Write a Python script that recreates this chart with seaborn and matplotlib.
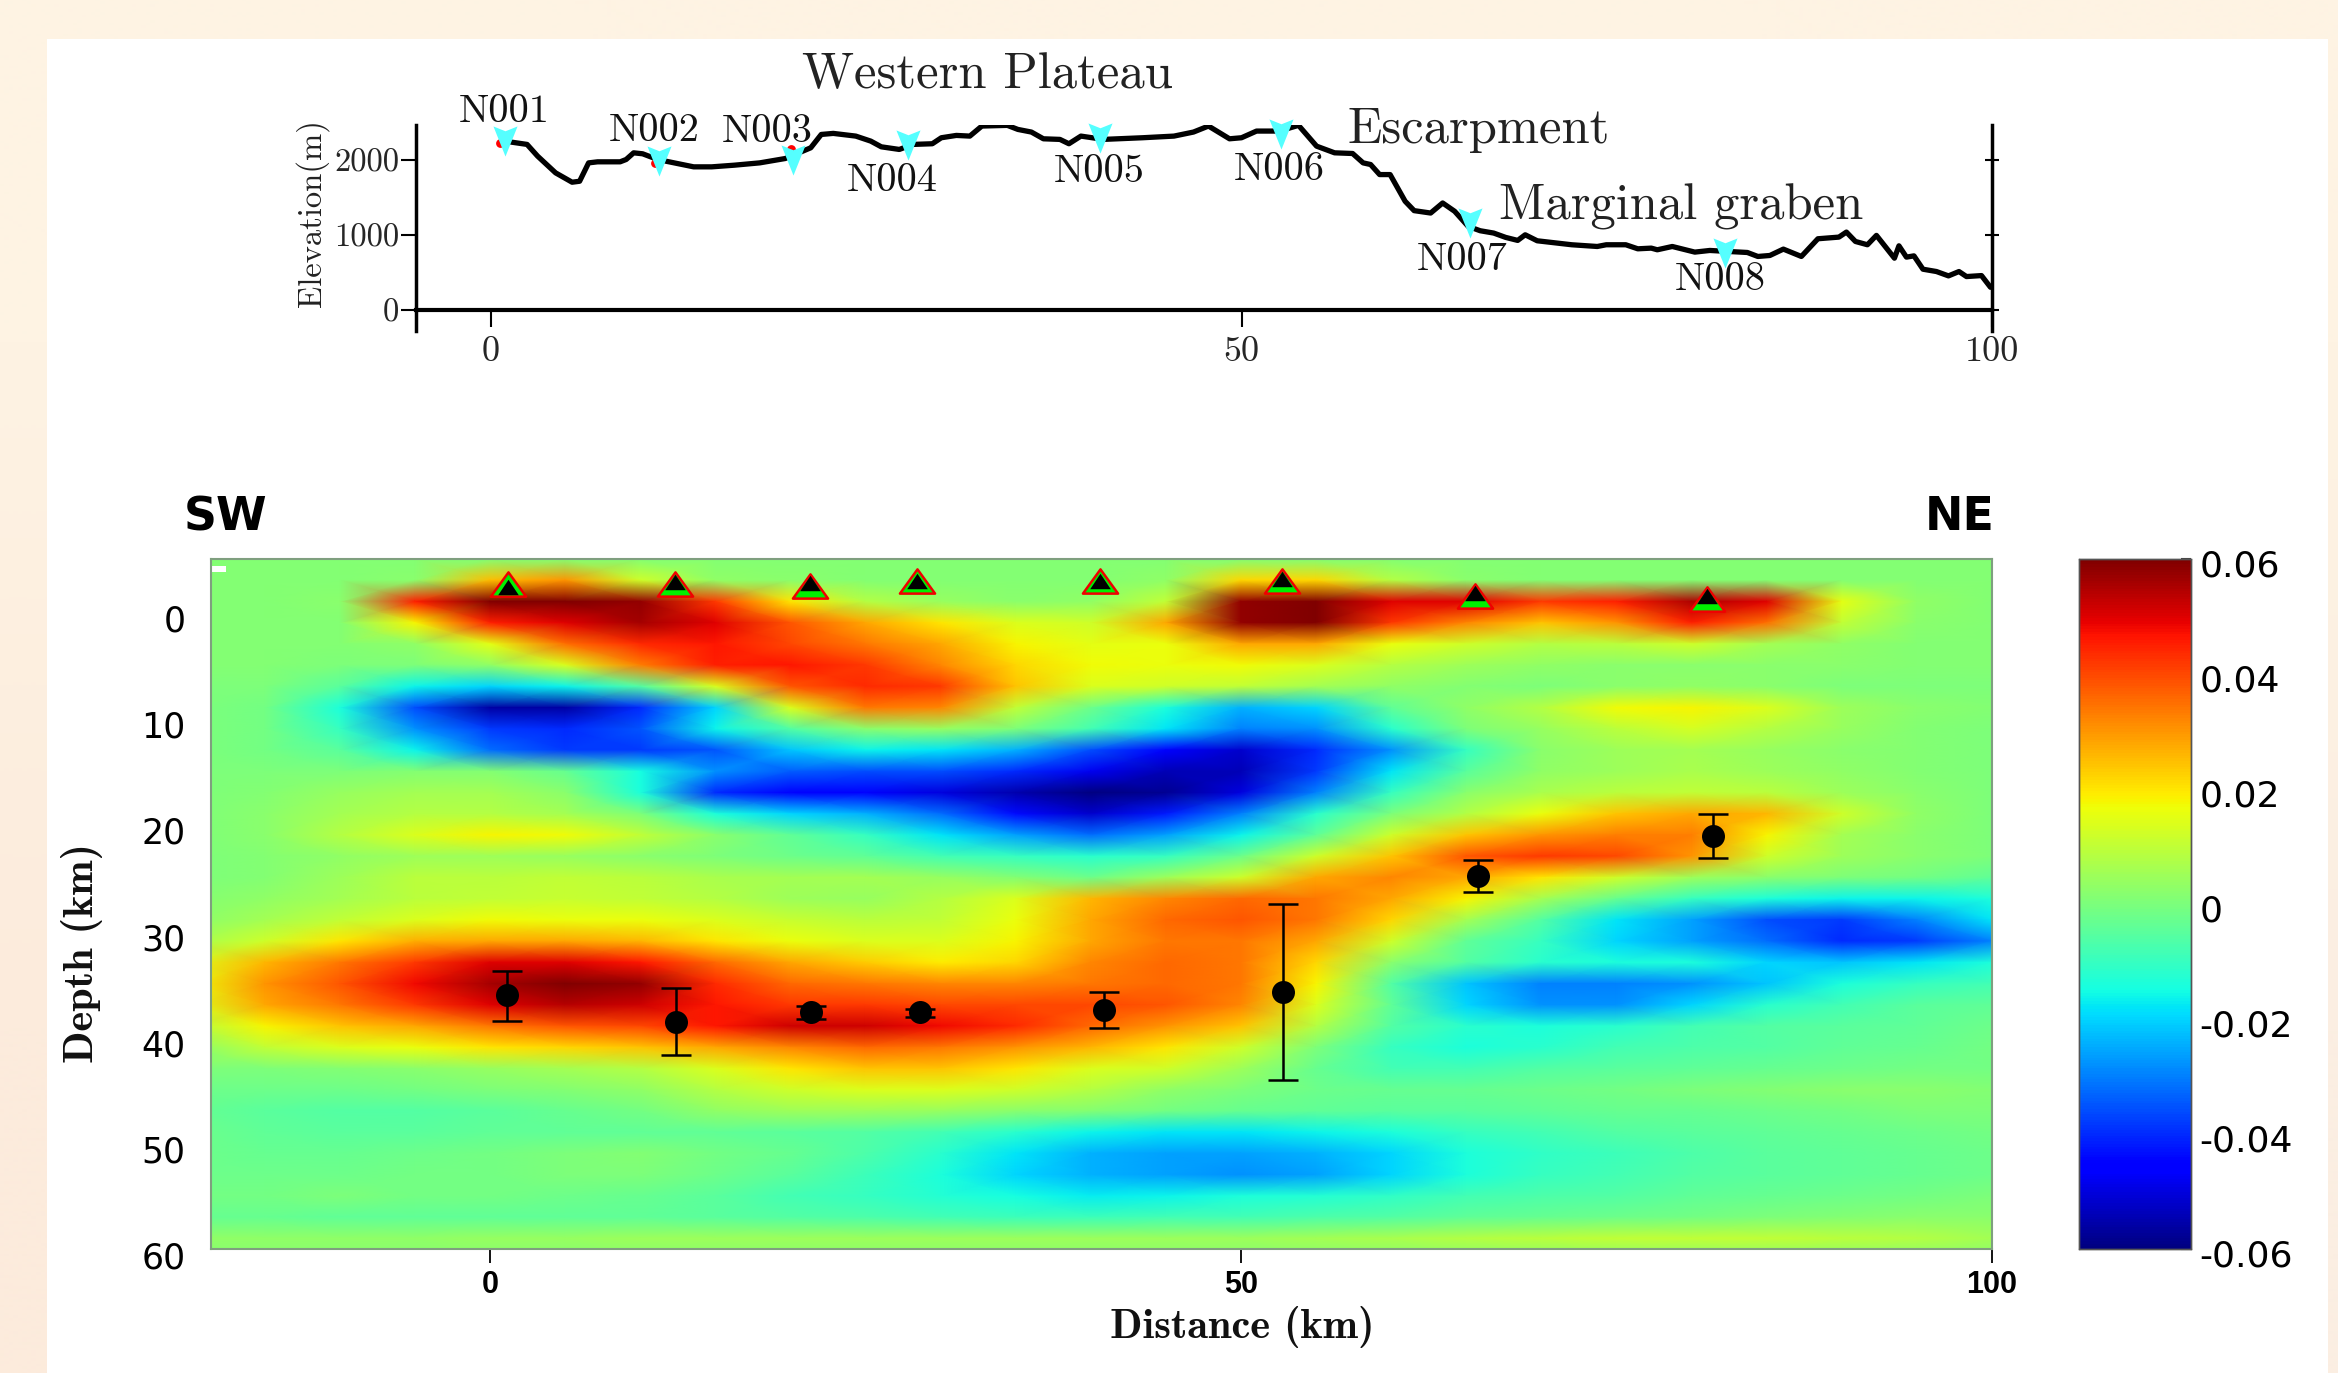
import numpy as np
import pandas as pd
import matplotlib
matplotlib.use('Agg')
import matplotlib.pyplot as plt
import seaborn as sns
from matplotlib.colors import to_rgb
from matplotlib.path import Path
from matplotlib.patches import Rectangle
from matplotlib.ticker import FuncFormatter
from matplotlib.transforms import ScaledTranslation

W, H = 2338, 1373

# ── elevation profile ─────────────────────────────
profile_km = [0.9, 2.4, 3.1, 4.3, 5.4, 5.9, 6.5, 7.1, 8.6, 9.0, 9.5, 10.1, 11.1, 12.2, 13.5, 14.7,
              16.2, 17.9, 19.6, 21.3, 22.0, 22.8, 24.3, 25.3, 26.0, 27.2, 28.1, 29.4, 30.0, 31.0,
              31.9, 32.7, 34.4, 35.1, 36.0, 36.8, 37.9, 38.5, 39.3, 40.8, 43.4, 45.5, 46.8, 47.8,
              49.2, 50.0, 51.0, 52.5, 53.8, 55.0, 56.2, 57.4, 58.1, 58.6, 59.2, 59.9, 60.9, 61.5,
              62.6, 63.4, 64.2, 65.1, 65.9, 66.8, 67.6, 68.4, 68.9, 69.7, 72.0, 73.7, 74.3, 75.6,
              76.4, 77.3, 77.7, 78.7, 80.2, 81.2, 83.7, 84.4, 85.2, 86.1, 87.3, 88.4, 89.8, 90.3,
              90.9, 91.7, 92.3, 93.5, 93.8, 94.3, 94.8, 95.4, 96.3, 97.1, 97.8, 98.3, 99.3, 99.9]
profile_elev = [2252, 2208, 2052, 1829, 1704, 1717, 1962, 1976, 1976, 2007, 2096, 2083, 2007, 1962, 1909, 1909,
                1931, 1962, 2020, 2163, 2341, 2355, 2319, 2252, 2176, 2141, 2208, 2217, 2297, 2328,
                2319, 2453, 2462, 2408, 2373, 2283, 2275, 2217, 2319, 2275, 2297, 2319, 2373, 2453,
                2283, 2297, 2386, 2386, 2462, 2185, 2096, 2087, 1962, 1940, 1806, 1806, 1450, 1325,
                1293, 1427, 1316, 1115, 1057, 1026, 968, 928, 1003, 923, 870, 847, 870, 870,
                816, 825, 803, 847, 772, 794, 767, 714, 727, 812, 714, 950, 972, 1039,
                914, 870, 995, 691, 856, 705, 722, 544, 513, 455, 513, 446, 459, 303]

station_names = ['N001', 'N002', 'N003', 'N004', 'N005', 'N006', 'N007', 'N008']
station_km = [0.9, 11.2, 20.1, 27.8, 40.6, 52.6, 65.2, 82.2]
station_elev = [2252, 1985, 1998, 2199, 2292, 2350, 1160, 758]
name_km = [0.9, 10.9, 18.4, 26.7, 40.5, 52.5, 64.7, 81.9]
name_elev = [2643, 2390, 2377, 1723, 1843, 1870, 670, 403]
red_km = [0.6, 10.9, 20.0]
red_elev = [2230, 1960, 2150]

region_names = ['Western Plateau', 'Escarpment', 'Marginal graben']
region_km = [33.1, 65.8, 79.3]
region_elev = [3133, 2400, 1380]

# ── markers on the depth section ──────────────────
tri_km = [1.2, 12.3, 21.3, 28.4, 40.6, 52.7, 65.6, 81.0]
tri_depth = [-2.6, -2.6, -2.5, -2.9, -2.9, -2.9, -1.5, -1.2]
tri_black_depth = [-2.4, -2.8, -2.7, -2.9, -2.9, -3.1, -1.8, -1.5]

moho_km = [1.13, 12.4, 21.4, 28.6, 40.9, 52.8, 65.8, 81.4]
moho_depth = [36.1, 38.6, 37.7, 37.7, 37.5, 35.8, 24.9, 21.1]
moho_top = [33.8, 35.4, 37.1, 37.4, 35.8, 27.5, 23.4, 19.0]
moho_bottom = [38.5, 41.7, 38.3, 38.1, 39.2, 44.1, 26.4, 23.2]

# ── anomaly section, thousandths ───────────────────────────
grid_km = [-20, -15, -10, -5, 0, 5, 10, 15, 20, 25, 30, 35, 40, 45, 50, 55, 60, 65, 70, 75, 80, 85, 90, 95, 100]
grid_depth = list(range(-5, 62, 2))
anomaly_rows = [
    [1, 1, 1, 1, 1, 1, 1, 1, 1, 1, 1, 1, 1, 1, 1, 1, 1, 1, 1, 1, 1, 1, 1, 1, 1],
    [1, 1, 1, 2, 25, 30, 12, 3, 2, 1, 1, 1, 1, 3, 22, 22, 8, 2, 1, 1, 1, 1, 1, 1, 1],
    [1, 1, 2, 45, 60, 60, 58, 42, 20, 8, 4, 2, 3, 10, 58, 60, 50, 50, 42, 45, 55, 50, 15, 3, 1],
    [1, 1, 1, 18, 45, 50, 56, 50, 38, 28, 20, 14, 12, 28, 58, 60, 42, 32, 24, 30, 45, 35, 10, 2, 1],
    [1, 1, 1, 3, 15, 35, 44, 46, 40, 34, 28, 18, 15, 16, 28, 28, 16, 12, 8, 9, 12, 6, 3, 1, 1],
    [1, 1, 0, 0, 3, 14, 33, 45, 46, 42, 32, 22, 17, 16, 17, 14, 8, 5, 3, 2, 2, 2, 2, 1, 1],
    [0, 0, -5, -16, -20, -16, -6, 14, 38, 44, 42, 24, 14, 12, 10, 6, 3, 1, 0, 2, 3, 2, 0, 0, 0],
    [0, -1, -14, -36, -56, -56, -40, -20, 14, 34, 32, 10, -2, -14, -24, -20, -4, 3, 8, 17, 18, 14, 5, 2, 1],
    [0, -1, -10, -28, -38, -40, -35, -16, -6, 2, 4, 0, -8, -18, -30, -28, -12, 0, 4, 9, 13, 8, 4, 1, 0],
    [0, -1, -5, -16, -32, -38, -38, -35, -22, -16, -18, -24, -36, -46, -52, -40, -28, -10, 2, 5, 6, 4, 2, 1, 0],
    [0, 0, 0, 1, 1, -3, -15, -28, -34, -36, -36, -40, -48, -54, -54, -38, -18, -5, 3, 5, 7, 5, 3, 1, 0],
    [0, 1, 4, 6, 6, 2, -14, -40, -46, -46, -50, -55, -60, -58, -50, -30, -10, 2, 7, 9, 10, 9, 5, 2, 0],
    [0, 2, 6, 8, 8, 6, 0, -14, -20, -24, -32, -44, -52, -42, -30, -12, 0, 8, 16, 24, 28, 26, 12, 3, 0],
    [0, 2, 8, 14, 18, 17, 10, 2, -4, -10, -18, -26, -32, -26, -16, -4, 12, 24, 30, 33, 33, 18, 6, 2, 0],
    [0, 1, 3, 5, 5, 4, 2, 0, -2, -4, -8, -10, -12, -10, -2, 12, 24, 38, 42, 40, 30, 12, 5, 2, 0],
    [0, 1, 5, 9, 9, 10, 9, 7, 6, 6, 4, 1, -2, 5, 12, 28, 32, 28, 20, 12, 5, 2, 0, -1, -4],
    [1, 3, 6, 9, 10, 11, 10, 8, 5, 4, 8, 14, 26, 32, 36, 34, 28, 18, 6, -3, -10, -14, -16, -16, -14],
    [2, 6, 10, 14, 17, 16, 16, 14, 11, 9, 10, 16, 28, 36, 38, 34, 22, 6, -6, -18, -26, -36, -38, -30, -18],
    [6, 12, 20, 27, 28, 28, 26, 20, 16, 14, 14, 18, 28, 34, 34, 28, 12, -4, -10, -20, -26, -32, -40, -38, -30],
    [14, 26, 34, 42, 50, 50, 46, 36, 28, 23, 19, 22, 32, 36, 34, 22, 2, -6, -12, -14, -14, -20, -22, -18, -14],
    [16, 30, 38, 48, 56, 60, 58, 44, 36, 34, 32, 32, 34, 36, 34, 18, -6, -22, -30, -30, -28, -22, -14, -10, -8],
    [14, 28, 34, 42, 50, 54, 52, 46, 42, 42, 40, 40, 40, 38, 32, 14, -4, -20, -28, -28, -20, -12, -8, -5, -4],
    [8, 18, 24, 28, 34, 38, 40, 46, 52, 52, 48, 44, 36, 30, 24, 8, -6, -12, -14, -12, -8, -6, -5, -4, -2],
    [2, 10, 14, 16, 20, 22, 24, 28, 32, 36, 34, 30, 26, 20, 12, 0, -10, -14, -12, -8, -7, -6, -4, -3, -1],
    [0, 0, 1, 2, 4, 6, 8, 14, 20, 24, 24, 20, 14, 12, 5, -3, -8, -8, -6, -5, -4, -3, -2, -1, -1],
    [-2, -2, -2, -1, 0, 1, 3, 8, 12, 14, 14, 12, 8, 3, 0, -2, -3, -3, -2, -1, 0, 1, 2, 2, 1],
    [-3, -5, -6, -6, -5, -3, -1, 3, 5, 5, 4, 2, 1, -1, -3, -4, -5, -5, -4, -3, -3, -2, -1, 0, 0],
    [-2, -4, -5, -5, -4, -4, -4, -4, -5, -6, -8, -12, -16, -18, -18, -16, -14, -10, -8, -6, -5, -4, -3, -2, -1],
    [-2, -3, -3, -2, -1, 0, 1, -1, -3, -7, -12, -18, -24, -26, -26, -24, -20, -14, -11, -9, -7, -5, -4, -3, -2],
    [-2, -2, -2, -1, -1, 0, 0, -2, -5, -9, -14, -20, -24, -26, -28, -26, -20, -14, -10, -8, -6, -5, -4, -3, -2],
    [-1, -1, 0, -1, -1, -2, -3, -5, -8, -10, -13, -15, -17, -16, -14, -13, -11, -8, -7, -6, -4, -3, -2, -1, 0],
    [-3, -3, -4, -4, -4, -4, -4, -5, -6, -7, -8, -9, -9, -8, -8, -7, -6, -4, -3, -2, -1, 0, 1, 2, 2],
    [3, 3, 3, 3, 4, 4, 5, 5, 5, 5, 5, 5, 5, 5, 5, 6, 7, 8, 9, 10, 10, 10, 9, 8, 6],
    [1, 1, 1, 1, 1, 1, 1, 1, 1, 1, 1, 1, 1, 1, 1, 1, 1, 1, 1, 1, 1, 1, 1, 1, 1],
]

depth_ticks = [0, 10, 20, 30, 40, 50, 60]
dist_ticks = [0, 50, 100]
elev_ticks = [0, 1000, 2000]
cbar_ticks = [-0.06, -0.04, -0.02, 0, 0.02, 0.04, 0.06]

CYAN = '#55FFFF'


def px_axes(fig, left, top, right, bottom, **kw):
    return fig.add_axes([left / W, 1 - bottom / H, (right - left) / W, (bottom - top) / H], **kw)


sns.set_theme(style='white')
fig = plt.figure(figsize=(W / 100, H / 100), dpi=100, facecolor='#FEF2E2')

# cream page with a faint shift towards the lower corners, white sheet on top
ax_bg = fig.add_axes([0, 0, 1, 1], zorder=-2)
ax_bg.imshow([[to_rgb('#FEF3E3'), to_rgb('#FEF3E3')], [to_rgb('#FCEBDC'), to_rgb('#FBEEE2')]],
             interpolation='bilinear', aspect='auto', extent=(0, 1, 0, 1))
ax_bg.add_patch(Rectangle((47 / W, 0), (2328 - 47) / W, 1 - 39 / H, fc='white', ec='none'))
ax_bg.set_axis_off()

# ── top panel: elevation ──────────────────────────
ax_top = px_axes(fig, 416, 125, 1992, 331, facecolor='none')
sns.lineplot(x=profile_km, y=profile_elev, estimator=None, sort=False, color='black', lw=3.8, ax=ax_top)
sns.scatterplot(x=red_km, y=red_elev, color='red', s=40, linewidth=0, ax=ax_top, zorder=3)
chevron = Path([(-0.8, 1), (0, 0.68), (0.8, 1), (0, -1), (-0.8, 1)], closed=True)
sns.scatterplot(x=station_km, y=station_elev, marker=chevron, s=470, color=CYAN, linewidth=0,
                ax=ax_top, zorder=4, clip_on=False)
ax_top.set_xlim(-5, 100)
ax_top.set_ylim(-280, 2467)
ax_top.spines['top'].set_visible(False)
ax_top.spines['bottom'].set_position(('data', 0))
ax_top.spines['bottom'].set_linewidth(3)
for side in ['left', 'right']:
    ax_top.spines[side].set_linewidth(2.5)
for side in ['left', 'right', 'bottom']:
    ax_top.spines[side].set_color('black')
ax_top.set_xticks(dist_ticks)
ax_top.set_yticks(elev_ticks)
ax_top.tick_params(axis='x', bottom=True, direction='out', length=12, width=1.5, pad=7, color='black',
                   labelsize=26, labelfontfamily='cmr10')
ax_top.tick_params(axis='y', left=True, direction='out', length=11, width=1.5, pad=1,
                   color='black', labelsize=23.5, labelfontfamily='cmr10')
ax_top.set_xlabel('')
ax_top.set_ylabel('')
ax_right = ax_top.twinx()
ax_right.set_ylim(ax_top.get_ylim())
ax_right.set_yticks(elev_ticks)
ax_right.tick_params(axis='y', right=True, labelright=False, direction='inout', length=10, width=1.5,
                     color='black')
ax_right.grid(False)
for spine in ax_right.spines.values():
    spine.set_visible(False)
for name, x, y in zip(station_names, name_km, name_elev):
    ax_top.text(x, y, name, fontsize=29, family='cmr10', ha='center', va='center', color='#111111')
for name, x, y in zip(region_names, region_km, region_elev):
    ax_top.text(x, y, name, fontsize=36.5, family='cmr10', ha='center', va='center', color='#222222')
fig.text(312 / W, 1 - 213 / H, 'Elevation(m)', rotation=90, fontsize=23.5, family='cmr10',
         ha='center', va='center', color='#222222')

# ── bottom panel: anomaly section ─────────────────
anomaly = pd.DataFrame(np.array(anomaly_rows) / 1000, index=grid_depth, columns=grid_km)

ax_map = px_axes(fig, 210.6, 559, 1992, 1249)
ax_cbar = px_axes(fig, 2079, 559, 2191, 1249)
sns.heatmap(anomaly, cmap='jet', vmin=-0.06, vmax=0.06, shading='gouraud', ax=ax_map, cbar_ax=ax_cbar,
            xticklabels=False, yticklabels=False,
            cbar_kws={'ticks': cbar_ticks,
                      'format': FuncFormatter(lambda v, _: '0' if abs(v) < 1e-9 else f'{v:g}')})
ax_map.set_xlim((-18.6 - grid_km[0]) / 5, len(grid_km) - 1)
ax_map.set_ylim((60 - grid_depth[0]) / 2, 0)
ax_map.set_xlabel('')
ax_map.set_ylabel('')

ax_cbar.tick_params(axis='y', right=True, direction='in', length=7, width=1.5, color='#444444', pad=6,
                    labelsize=26, labelfontfamily='DejaVu Sans', labelcolor='black')
for spine in ax_cbar.spines.values():
    spine.set_visible(True)
    spine.set_linewidth(1)
    spine.set_color('#555555')
for label in ax_cbar.get_yticklabels():
    label.set_transform(label.get_transform() + ScaledTranslation(0, -4 / 100, fig.dpi_scale_trans))

# second layer with real km and depth limits, holds ticks and marks
ax_sec = px_axes(fig, 210.6, 559, 1992, 1249, facecolor='none')
ax_sec.set_xlim(-18.6, 100)
ax_sec.set_ylim(60, -5)
ax_sec.add_patch(Rectangle((-18.6, -4.3), 1.0, 0.5, fc='white', ec='none'))

ax_sec.errorbar(moho_km, moho_depth,
                yerr=[np.array(moho_depth) - np.array(moho_top), np.array(moho_bottom) - np.array(moho_depth)],
                fmt='none', ecolor='black', elinewidth=1.8, capsize=10.5, capthick=1.8, zorder=3)
sns.scatterplot(x=moho_km, y=moho_depth, s=274, color='black', linewidth=0, ax=ax_sec, zorder=4)

outer_tri = Path([(-1, -0.69), (1, -0.69), (0, 0.69), (-1, -0.69)], closed=True)
inner_tri = Path([(-1, -0.75), (1, -0.75), (0, 0.75), (-1, -0.75)], closed=True)
sns.scatterplot(x=tri_km, y=tri_depth, marker=outer_tri, s=640, color='#00F000', edgecolor='#F00000',
                linewidth=1.8, ax=ax_sec, zorder=5)
sns.scatterplot(x=tri_km, y=tri_black_depth, marker=inner_tri, s=220, color='black', linewidth=0,
                ax=ax_sec, zorder=6)

ax_sec.set_xlim(-18.6, 100)
ax_sec.set_ylim(60, -5)
ax_sec.set_xticks(dist_ticks)
ax_sec.set_yticks(depth_ticks)
ax_sec.set_xlabel('')
ax_sec.set_ylabel('')
ax_sec.tick_params(axis='x', bottom=True, direction='out', length=10, width=1.3, color='black', pad=5)
ax_sec.tick_params(axis='y', left=False, pad=12)
for label in ax_sec.get_xticklabels():
    label.set(family='Liberation Sans', fontweight='bold', fontsize=22, color='black')
for label in ax_sec.get_yticklabels():
    label.set(family='DejaVu Sans', fontsize=25, color='black')
    label.set_transform(label.get_transform() + ScaledTranslation(0, -6 / 100, fig.dpi_scale_trans))
for spine in ax_sec.spines.values():
    spine.set_visible(True)
    spine.set_color('#7F9F7F')
    spine.set_linewidth(1.5)

fig.text(1242 / W, 1 - 1327 / H, 'Distance (km)', fontsize=30.5, family='cmb10', ha='center', va='center',
         color='#111111')
fig.text(82 / W, 1 - 953 / H, 'Depth (km)', rotation=90, fontsize=30.5, family='cmb10', ha='center',
         va='center', color='#111111')
fig.text(226 / W, 1 - 518 / H, 'SW', fontsize=33, family='DejaVu Sans', fontweight='bold', ha='center',
         va='center', color='black')
fig.text(1995 / W, 1 - 518 / H, 'NE', fontsize=33, family='DejaVu Sans', fontweight='bold', ha='right',
         va='center', color='black')

fig.savefig('out.png', dpi=100)
